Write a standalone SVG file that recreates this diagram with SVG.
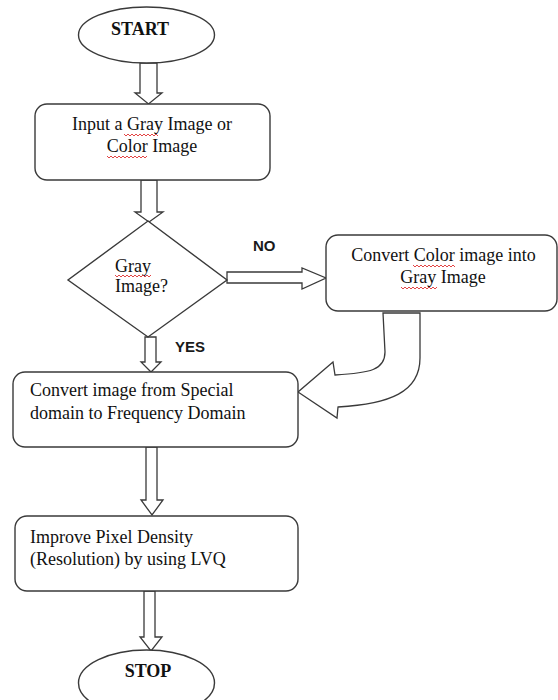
<svg xmlns="http://www.w3.org/2000/svg" width="558" height="700" viewBox="0 0 558 700">
  <style>
    .shape { fill: #ffffff; stroke: #3a3a3a; stroke-width: 1.4; }
    .arrow { fill: #ffffff; stroke: #3a3a3a; stroke-width: 1.3; stroke-linejoin: miter; }
    .txt { font-family: "Liberation Serif", "Times New Roman", serif; font-size: 18px; fill: #111111; }
    .term { font-family: "Liberation Serif", "Times New Roman", serif; font-size: 18px; font-weight: bold; fill: #111111; }
    .lbl { font-family: "Liberation Sans", Arial, sans-serif; font-size: 15px; font-weight: bold; fill: #1a1a1a; }
    .squiggle { fill: none; stroke: #e03030; stroke-width: 0.9; }
  </style>
  <rect width="558" height="700" fill="#ffffff"/>

  <!-- block arrows between steps -->
  <g id="connectors">
    <polygon class="arrow" points="140,63 157,63 157,93 162,93 148.5,104 135,93 140,93"/>
    <polygon class="arrow" points="141,180 157,180 157,212 163,212 149,222 135,212 141,212"/>
    <polygon class="arrow" points="145,337 156,337 156,362 161,362 151,372 141,362 145,362"/>
    <polygon class="arrow" points="227,272 302,272 302,268 326,278 302,289 302,283 227,283"/>
    <path class="arrow" d="M383,313 L385,352 C385,370 370,373 335,375 L333,362 L298,392 L337,418 L338,407 C390,404 420,392 420,358 L420,313 Z"/>
    <polygon class="arrow" points="146,447 157,447 157,500 163,500 152,515 141,500 146,500"/>
    <polygon class="arrow" points="144,591 155,591 155,637 162,637 151,651 140,637 144,637"/>
    <text class="lbl" x="253" y="251">NO</text>
    <text class="lbl" x="175" y="352">YES</text>
  </g>

  <g id="start">
    <ellipse class="shape" cx="146.5" cy="35" rx="68" ry="28"/>
    <text class="term" x="140" y="35" text-anchor="middle">START</text>
  </g>

  <g id="input">
    <rect class="shape" x="35" y="104" width="235" height="76" rx="12"/>
    <text class="txt" x="152" y="130" text-anchor="middle">Input a Gray Image or</text>
    <text class="txt" x="152" y="152" text-anchor="middle">Color Image</text>
    <path class="squiggle" d="M124,134 l2,2 l2,-2 l2,2 l2,-2 l2,2 l2,-2 l2,2 l2,-2 l2,2 l2,-2 l2,2 l2,-2 l2,2 l2,-2 l2,2 l2,-2 l2,2"/>
    <path class="squiggle" d="M107,156 l2,2 l2,-2 l2,2 l2,-2 l2,2 l2,-2 l2,2 l2,-2 l2,2 l2,-2 l2,2 l2,-2 l2,2 l2,-2 l2,2 l2,-2 l2,2 l2,-2 l2,2 l2,-2"/>
  </g>

  <g id="decision">
    <polygon class="shape" points="148,221 227,280 148,337 68,280"/>
    <text class="txt" x="115" y="272">Gray</text>
    <text class="txt" x="115" y="292">Image?</text>
    <path class="squiggle" d="M115,275 l2,2 l2,-2 l2,2 l2,-2 l2,2 l2,-2 l2,2 l2,-2 l2,2 l2,-2 l2,2 l2,-2 l2,2 l2,-2 l2,2 l2,-2 l2,2 l2,-2"/>
  </g>

  <g id="convert-gray">
    <rect class="shape" x="326" y="235" width="231" height="76" rx="12"/>
    <text class="txt" x="443.5" y="261" text-anchor="middle">Convert Color image into</text>
    <text class="txt" x="443" y="283" text-anchor="middle">Gray Image</text>
    <path class="squiggle" d="M413,265 l2,2 l2,-2 l2,2 l2,-2 l2,2 l2,-2 l2,2 l2,-2 l2,2 l2,-2 l2,2 l2,-2 l2,2 l2,-2 l2,2 l2,-2 l2,2 l2,-2 l2,2 l2,-2 l2,2"/>
    <path class="squiggle" d="M401,287 l2,2 l2,-2 l2,2 l2,-2 l2,2 l2,-2 l2,2 l2,-2 l2,2 l2,-2 l2,2 l2,-2 l2,2 l2,-2 l2,2 l2,-2 l2,2 l2,-2"/>
  </g>

  <g id="frequency">
    <rect class="shape" x="13" y="372" width="285" height="75" rx="12"/>
    <text class="txt" x="30" y="396">Convert image  from Special</text>
    <text class="txt" x="30" y="419">domain to Frequency Domain</text>
  </g>

  <g id="lvq">
    <rect class="shape" x="15" y="516" width="283" height="75" rx="12"/>
    <text class="txt" x="30" y="543">Improve Pixel Density</text>
    <text class="txt" x="30" y="565">(Resolution) by using LVQ</text>
  </g>

  <g id="stop">
    <ellipse class="shape" cx="146.5" cy="683" rx="68" ry="33"/>
    <text class="term" x="148" y="677" text-anchor="middle">STOP</text>
  </g>
</svg>
